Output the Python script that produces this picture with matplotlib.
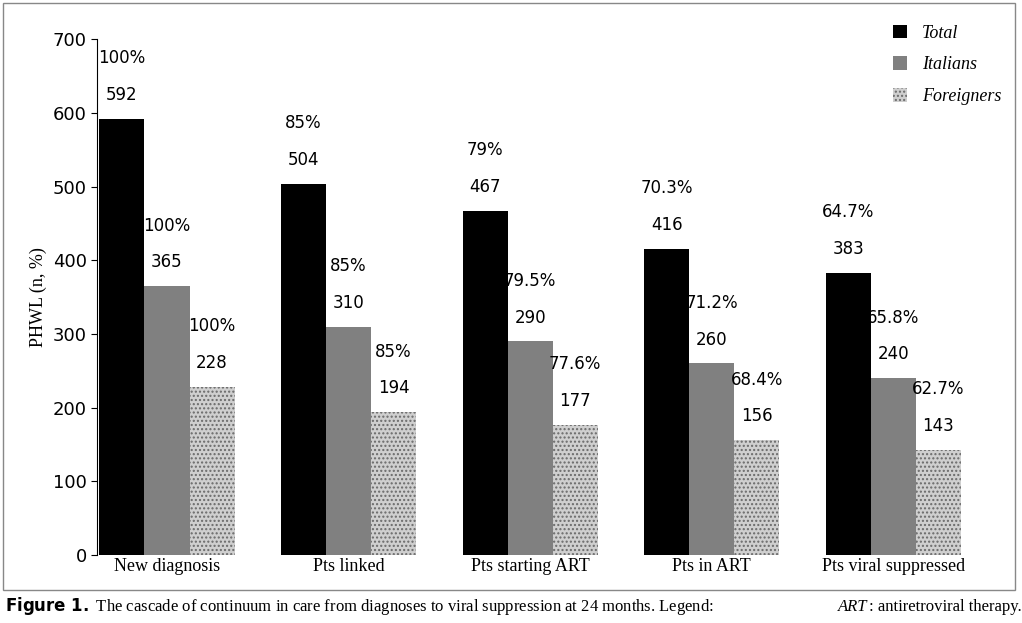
import matplotlib.pyplot as plt
import numpy as np
from matplotlib.patches import Rectangle

categories = ["New diagnosis", "Pts linked", "Pts starting ART", "Pts in ART", "Pts viral suppressed"]
total = [592, 504, 467, 416, 383]
italians = [365, 310, 290, 260, 240]
foreigners = [228, 194, 177, 156, 143]
total_pct = ["100%", "85%", "79%", "70.3%", "64.7%"]
italians_pct = ["100%", "85%", "79.5%", "71.2%", "65.8%"]
foreigners_pct = ["100%", "85%", "77.6%", "68.4%", "62.7%"]
yticks = [0, 100, 200, 300, 400, 500, 600, 700]

fig = plt.figure(figsize=(10.22, 6.23), dpi=100)
fig.patches.append(Rectangle((0.003, 0.053), 0.99, 0.942, transform=fig.transFigure,
                             fill=False, edgecolor="#888888", lw=1))
ax = fig.add_axes([0.095, 0.109, 0.883, 0.828])

x = np.arange(len(categories))
w = 0.248
series = [
    (total, total_pct, -w, dict(color="black")),
    (italians, italians_pct, 0, dict(color="#808080")),
    (foreigners, foreigners_pct, w, dict(color="#cfcfcf", hatch="....", edgecolor="#6a6a6a", lw=0)),
]
labels = ["Total", "Italians", "Foreigners"]
for (vals, pcts, off, style), lab in zip(series, labels):
    ax.bar(x + off, vals, w, label=lab, **style)
    for xi, v, p in zip(x + off, vals, pcts):
        ax.text(xi, v + 20, str(v), ha="center", va="bottom", fontsize=12)
        ax.text(xi, v + 70, p, ha="center", va="bottom", fontsize=12)

ax.set_xlim(-0.385, 4.585)
ax.set_ylim(0, 700)
ax.set_yticks(yticks, labels=yticks, fontsize=13)
ax.set_xticks(x, categories, fontsize=13, family="Liberation Serif")
ax.tick_params(axis="x", length=0, pad=2)
ax.tick_params(axis="y", length=4)
for s in ["top", "right", "bottom"]:
    ax.spines[s].set_visible(False)
ax.set_ylabel("PHWL (n, %)", fontsize=13, family="Liberation Serif")

ax.legend(loc="upper right", bbox_to_anchor=(1.02, 1.06), frameon=False,
          prop={"family": "Liberation Serif", "style": "italic", "size": 13},
          handlelength=0.8, handleheight=0.8, labelspacing=0.8)

fig.text(0.005, 0.02, r"$\bf{Figure\ 1.}$ The cascade of continuum in care from diagnoses to viral suppression at 24 months. Legend: ",
         fontsize=12, family="Liberation Serif")
fig.text(0.82, 0.02, "ART", fontsize=12, family="Liberation Serif", style="italic")
fig.text(0.85, 0.02, ": antiretroviral therapy.", fontsize=12, family="Liberation Serif")

plt.savefig("out.png", dpi=100)
